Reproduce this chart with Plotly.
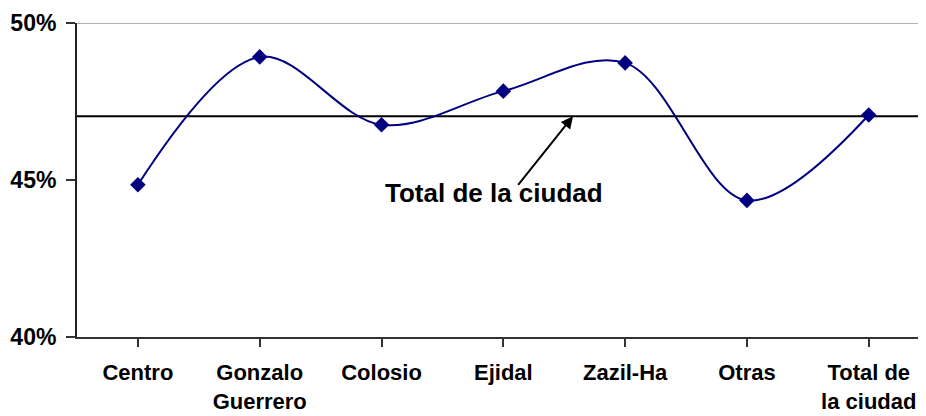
import plotly.graph_objects as go

categories = ["Centro", "Gonzalo<br>Guerrero", "Colosio", "Ejidal", "Zazil-Ha", "Otras", "Total de<br>la ciudad"]
values = [44.85, 48.92, 46.76, 47.83, 48.73, 44.35, 47.07]
city_total = 47.03
y_ticks = [40, 45, 50]
y_tick_labels = ["40%", "45%", "50%"]

FONT = "Arial, Liberation Sans, sans-serif"

fig = go.Figure()
fig.add_trace(go.Scatter(
    x=list(range(len(categories))), y=values, mode="lines+markers",
    line=dict(color="#000080", width=2, shape="spline", smoothing=1.0),
    marker=dict(symbol="diamond", size=12, color="#000080"),
    showlegend=False, hoverinfo="skip", cliponaxis=False,
))

# top border line at 50%
fig.add_shape(type="line", xref="paper", yref="y", x0=0, x1=1, y0=50, y1=50,
              line=dict(color="#999999", width=1.5), layer="below")
# city total reference line
fig.add_shape(type="line", xref="paper", yref="y", x0=0, x1=1, y0=city_total, y1=city_total,
              line=dict(color="black", width=2), layer="below")

fig.add_annotation(x=2.924, y=44.58, xref="x", yref="y", text="Total de la ciudad",
                   showarrow=False, font=dict(family=FONT, size=26, color="black", weight="bold"))
fig.add_annotation(x=3.572, y=city_total, xref="x", yref="y", ax=3.112, ay=44.8,
                   axref="x", ayref="y", text="", showarrow=True,
                   arrowhead=2, arrowsize=1.2, arrowwidth=2, arrowcolor="black")

# page body has an 8px margin, so the figure is sized to fill the rest of the window
fig.update_layout(
    width=918, height=408,
    margin=dict(l=69, r=0, t=15, b=79, autoexpand=False),
    paper_bgcolor="white", plot_bgcolor="white",
    xaxis=dict(
        range=[-0.5, 6.47], tickmode="array", tickvals=list(range(len(categories))),
        ticktext=categories, tickson="boundaries", ticks="outside", ticklen=8,
        tickcolor="#333333", tickwidth=1.5, automargin=False,
        showline=True, linecolor="#333333", linewidth=2, showgrid=False, zeroline=False,
        tickfont=dict(family=FONT, size=22, color="black", weight="bold"),
        ticklabelstandoff=7,
    ),
    yaxis=dict(
        range=[40, 50], tickmode="array", tickvals=y_ticks, ticktext=y_tick_labels,
        ticks="outside", ticklen=9, tickcolor="#333333", tickwidth=1.5, automargin=False,
        showline=True, linecolor="#222222", linewidth=2, showgrid=False, zeroline=False,
        tickfont=dict(family=FONT, size=23, color="black", weight="bold"),
        ticklabelstandoff=5,
    ),
)

fig.write_html("out.html")
